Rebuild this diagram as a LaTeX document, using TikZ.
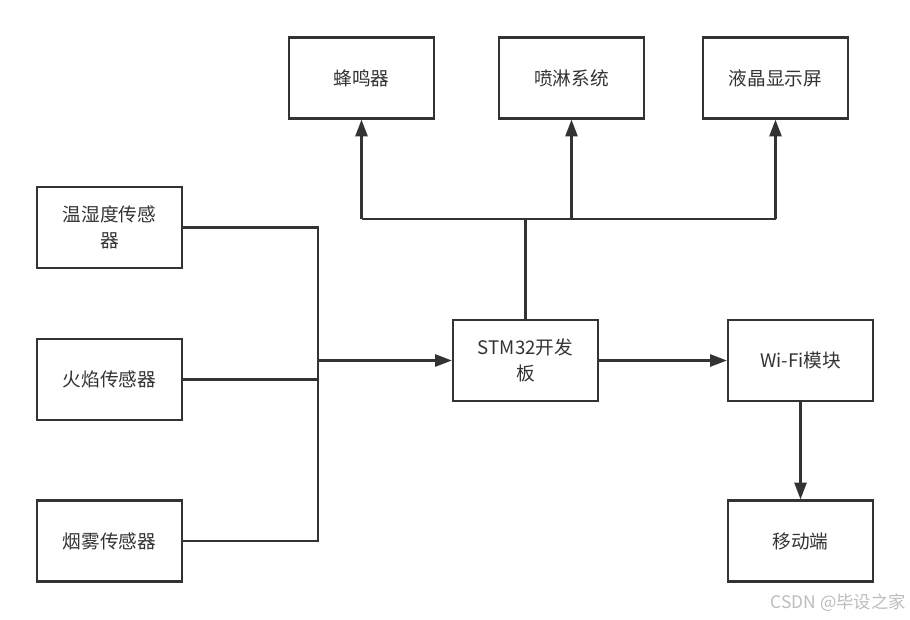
\documentclass[tikz,border=0pt]{standalone}
\usepackage{fontspec}
\setmainfont{Noto Sans CJK SC}
\usetikzlibrary{arrows.meta}
\definecolor{ink}{HTML}{333333}
\definecolor{wm}{HTML}{BDBDBD}
\begin{document}
\begin{tikzpicture}[x=0.75pt,y=-0.75pt,
  blk/.style={draw=ink,line width=1.7pt,fill=white,minimum width=108.75pt,minimum height=60.75pt,
    align=center,text=ink,font=\fontsize{14}{19.5}\selectfont,inner sep=0pt},
  wire/.style={draw=ink,line width=1.8pt},
  thin/.style={draw=ink,line width=1.6pt},
  arr/.style={wire,-{Triangle[length=12.5pt,width=9pt]}}]
\useasboundingbox (0,0) rectangle (910,619);
\fill[white] (0,0) rectangle (910,619);
% nodes
\node[blk] (b1) at (361.5,78) {蜂鸣器};
\node[blk] (b2) at (571.5,78) {喷淋系统};
\node[blk] (b3) at (775.5,78) {液晶显示屏};
\node[blk] (s1) at (109.5,227.5) {温湿度传感\\器};
\node[blk] (s2) at (109.5,379.5) {火焰传感器};
\node[blk] (s3) at (109.5,541) {烟雾传感器};
\node[blk] (mcu) at (525.5,360.5) {STM32开发\\板};
\node[blk] (wifi) at (800.5,360.5) {Wi-Fi模块};
\node[blk] (mob) at (800.5,541) {移动端};
% junctions
\coordinate (jb) at (318,541);
\coordinate (jt) at (525.5,219);
% sensor bus
\draw[thin] (s1.east) -| (jb) -- (s3.east);
\draw[thin] (s2.east) -- (s2.east -| jb);
\draw[arr] (jb |- mcu.west) -- (mcu.west);
% output bus
\draw[wire] (mcu.north) -- (jt);
\draw[wire] (b1.south |- jt) -- (b3.south |- jt);
\draw[arr] (b1.south |- jt) -- (b1.south);
\draw[arr] (b2.south |- jt) -- (b2.south);
\draw[arr] (b3.south |- jt) -- (b3.south);
% wifi
\draw[arr] (mcu.east) -- (wifi.west);
\draw[arr] (wifi.south) -- (mob.north);
% watermark
\node[text=wm,font=\fontsize{13}{15}\selectfont,anchor=east,inner sep=0pt] (wmk) at (906,603) {CSDN @毕设之家};
\end{tikzpicture}
\end{document}
